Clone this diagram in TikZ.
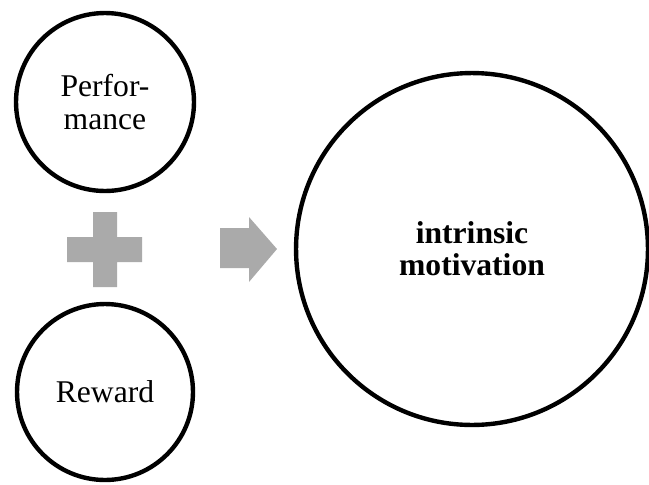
\documentclass[tikz,border=0pt]{standalone}
\usepackage{fontspec}
\setmainfont{Liberation Serif}
\usetikzlibrary{positioning}
\definecolor{signgray}{RGB}{170,170,170}

\begin{document}
\begin{tikzpicture}[x=0.02cm,y=-0.02cm,
    bubble/.style={circle,draw,line width=2.5pt,inner sep=0pt,align=center,
      font=\fontsize{18}{18.3}\selectfont}]
  \useasboundingbox (0,0) rectangle (649,484);
  \node[bubble,minimum size=3.56cm] (perf) at (105,102) {Perfor-\\mance};
  \node[bubble,minimum size=3.52cm] (rew) at (105,392) {Reward};
  \node[bubble,minimum size=7.04cm,font=\fontsize{18}{18.3}\selectfont\bfseries]
    (motiv) at (472,249) {intrinsic\\motivation};
  % plus sign
  \fill[signgray] (93,212) -- (117,212) -- (117,237) -- (142,237) -- (142,262)
    -- (117,262) -- (117,287) -- (93,287) -- (93,262) -- (67,262) -- (67,237)
    -- (93,237) -- cycle;
  % block arrow
  \fill[signgray] (220,228) -- (249,228) -- (249,217) -- (277,249) -- (249,282)
    -- (249,268) -- (220,268) -- cycle;
\end{tikzpicture}
\end{document}
